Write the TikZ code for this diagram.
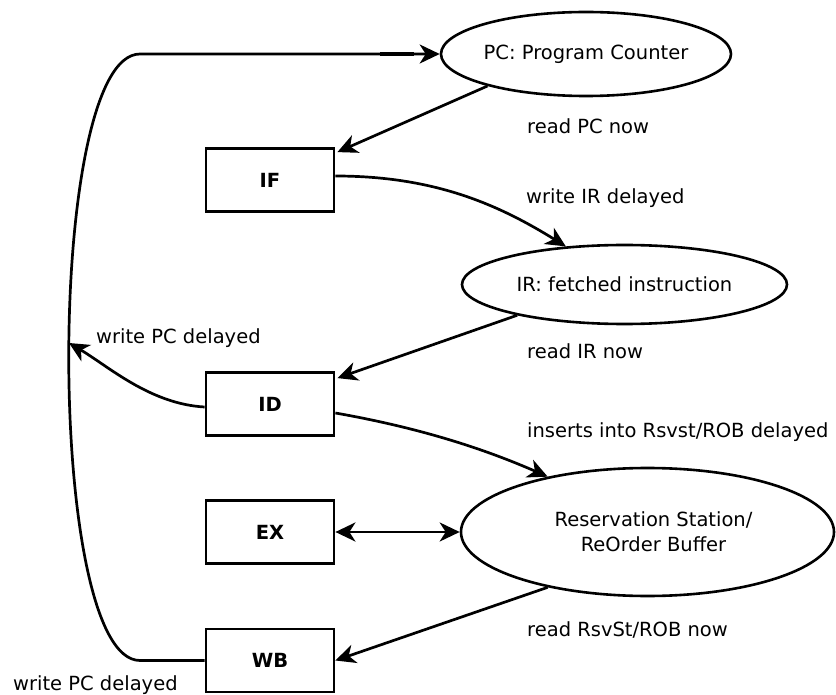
\documentclass[tikz,border=0pt]{standalone}
\usepackage{fontspec}
\setmainfont{DejaVu Sans}
\usetikzlibrary{arrows.meta,calc,shapes.geometric}
\begin{document}
\begin{tikzpicture}[x=1pt,y=-1pt,
  every node/.style={font=\fontsize{19.5}{25}\selectfont, text=black},
  box/.style={draw, line width=2.8pt, minimum width=128pt, minimum height=63pt, inner sep=0pt, font=\fontsize{19.5}{25}\selectfont\bfseries},
  oval/.style={draw, ellipse, line width=2.6pt, inner sep=0pt},
  lbl/.style={anchor=base west, inner sep=0pt},
  conn/.style={line width=2.7pt, -{Stealth[length=20pt,width=19pt,inset=6pt]}},
  dconn/.style={line width=2.7pt, {Stealth[length=20pt,width=19pt,inset=6pt]}-{Stealth[length=20pt,width=19pt,inset=6pt]}},
]
\useasboundingbox (0,0) rectangle (836,695);

% nodes
\node[oval, minimum width=290pt, minimum height=84pt, label=center:{PC: Program Counter}] (PC) at (586,54) {};
\node[oval, minimum width=325pt, minimum height=79pt, label=center:{IR: fetched instruction}] (IR) at (624.5,284.5) {};
\node[oval, minimum width=373pt, minimum height=128pt, label={[align=center, xshift=6pt]center:{Reservation Station/\\ReOrder Buffer}}] (RS) at (647.5,532) {};

\node[box] (IF) at (270,180) {IF};
\node[box] (ID) at (270,404) {ID};
\node[box] (EX) at (270,532) {EX};
\node[box] (WB) at (270,660.5) {WB};

% labels
\node[lbl] (l1) at (527,134) {read PC now};
\node[lbl] (l2) at (526,204) {write IR delayed};
\node[lbl] (l3) at (527,359) {read IR now};
\node[lbl] (l4) at (527,437) {inserts into Rsvst/ROB delayed};
\node[lbl] (l5) at (527,636) {read RsvSt/ROB now};
\node[lbl] (l6) at (96,343) {write PC delayed};
\node[lbl] (l7) at (13,690) {write PC delayed};

\coordinate (J) at (69,343);

% connectors
\draw[conn] (PC.198) -- ($(IF.north east)+(2,5)$);
\draw[conn] ($(IF.east)+(0,-4)$) .. controls (435,176) and (499,205) .. (IR.147);
\draw[conn] (IR.196) -- ($(ID.north east)+(2,7)$);
\draw[conn] ($(ID.east)+(0,9)$) .. controls (415,427) and (480,447) .. (RS.151);
\draw[dconn] (EX.east) -- (RS.west);
\draw[conn] (RS.209) -- (WB.east);
\draw[conn] ($(ID.west)+(0,3)$) .. controls (150,404) and (108,366) .. (J);
\draw[conn] (WB.west) -- (140,660.5) .. controls (45,660.5) and (45,54) .. (140,54) -- (PC.west);
\draw[line width=4.2pt] (380,54) -- (414,54);
\end{tikzpicture}
\end{document}
